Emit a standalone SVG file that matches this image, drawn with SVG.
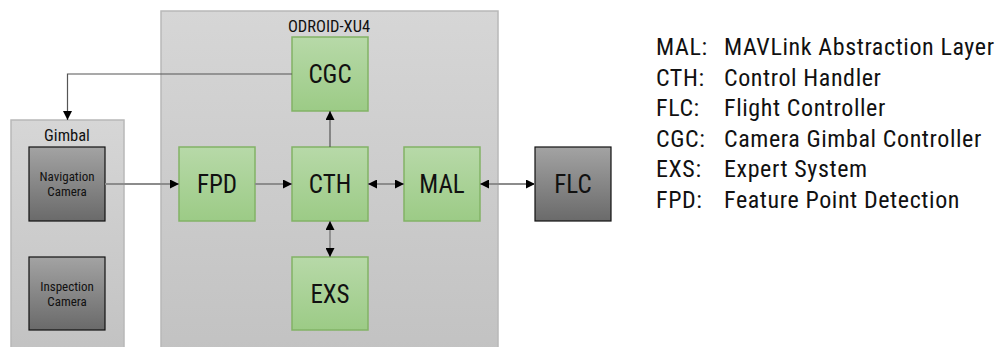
<svg xmlns="http://www.w3.org/2000/svg" width="1005" height="347" viewBox="0 0 1005 347">
  <defs>
    <linearGradient id="gGroup" x1="0" y1="0" x2="0" y2="1">
      <stop offset="0" stop-color="#d6d6d6"/>
      <stop offset="1" stop-color="#c2c2c2"/>
    </linearGradient>
    <linearGradient id="gGreen" x1="0" y1="0" x2="0" y2="1">
      <stop offset="0" stop-color="#b7d9a8"/>
      <stop offset="1" stop-color="#9ccb86"/>
    </linearGradient>
    <linearGradient id="gDark" x1="0" y1="0" x2="0" y2="1">
      <stop offset="0" stop-color="#a3a3a3"/>
      <stop offset="1" stop-color="#6a6a6a"/>
    </linearGradient>
    <marker id="arrow" viewBox="0 0 10 10" refX="10" refY="5" markerWidth="9" markerHeight="9" markerUnits="userSpaceOnUse" orient="auto-start-reverse">
      <path d="M0,0 L10,5 L0,10 Z" fill="#000"/>
    </marker>
  </defs>
  <style>
    text { font-family: Roboto, "Liberation Sans", sans-serif; font-stretch: condensed; fill: #111; }
    .group { fill: url(#gGroup); stroke: #b8b8b8; stroke-width: 1.5; }
    .green { fill: url(#gGreen); stroke: #82b366; stroke-width: 1.5; }
    .dark { fill: url(#gDark); stroke: #111; stroke-width: 1.2; }
    .big { font-size: 25px; text-anchor: middle; }
    .small { font-size: 13px; text-anchor: middle; }
    .glabel { font-size: 16.5px; text-anchor: middle; }
    .legend text { font-size: 24px; letter-spacing: 0.6px; }
    .conn path { fill: none; stroke: #8c8c8c; stroke-width: 1.8; }
    .conn path.thin { stroke: #555; stroke-width: 1.2; }
  </style>

  <!-- containers -->
  <g id="odroid">
    <rect class="group" x="161" y="11" width="337" height="345"/>
    <text class="glabel" x="329" y="31.5">ODROID-XU4</text>
  </g>
  <g id="gimbal">
    <rect class="group" x="11" y="120" width="113" height="236"/>
    <text class="glabel" x="67" y="140.5">Gimbal</text>
  </g>

  <!-- nodes -->
  <g id="nav-camera">
    <rect class="dark" x="29" y="147" width="76" height="74"/>
    <text class="small" x="67" y="181">Navigation</text>
    <text class="small" x="67" y="196">Camera</text>
  </g>
  <g id="insp-camera">
    <rect class="dark" x="29" y="257" width="76" height="73"/>
    <text class="small" x="67" y="291">Inspection</text>
    <text class="small" x="67" y="306">Camera</text>
  </g>
  <g id="fpd">
    <rect class="green" x="179" y="147" width="76" height="74"/>
    <text class="big" x="217" y="193">FPD</text>
  </g>
  <g id="cgc">
    <rect class="green" x="292" y="37" width="76" height="74"/>
    <text class="big" x="330" y="83">CGC</text>
  </g>
  <g id="cth">
    <rect class="green" x="292" y="147" width="76" height="74"/>
    <text class="big" x="330" y="193">CTH</text>
  </g>
  <g id="mal">
    <rect class="green" x="404" y="147" width="76" height="74"/>
    <text class="big" x="442" y="193">MAL</text>
  </g>
  <g id="exs">
    <rect class="green" x="292" y="257" width="76" height="73"/>
    <text class="big" x="330" y="302.5">EXS</text>
  </g>
  <g id="flc">
    <rect class="dark" x="535" y="147" width="76" height="74"/>
    <text class="big" x="573" y="193">FLC</text>
  </g>

  <!-- connectors -->
  <g id="connectors" class="conn">
    <path class="thin" d="M292,74 H67.5 V120" marker-end="url(#arrow)"/>
    <path class="thin" d="M330,147 V111" marker-end="url(#arrow)"/>
    <path d="M105,184 H179" marker-end="url(#arrow)"/>
    <path d="M255,184 H292" marker-end="url(#arrow)"/>
    <path d="M368,184 H404" marker-start="url(#arrow)" marker-end="url(#arrow)"/>
    <path d="M480,184 H535" marker-start="url(#arrow)" marker-end="url(#arrow)"/>
    <path d="M330,221 V257" marker-start="url(#arrow)" marker-end="url(#arrow)"/>
  </g>

  <!-- legend -->
  <g id="legend" class="legend">
    <text x="656" y="55">MAL:</text><text x="724" y="55">MAVLink Abstraction Layer</text>
    <text x="656" y="85.5">CTH:</text><text x="724" y="85.5">Control Handler</text>
    <text x="656" y="116">FLC:</text><text x="724" y="116">Flight Controller</text>
    <text x="656" y="146.5">CGC:</text><text x="724" y="146.5">Camera Gimbal Controller</text>
    <text x="656" y="177">EXS:</text><text x="724" y="177">Expert System</text>
    <text x="656" y="207.5">FPD:</text><text x="724" y="207.5">Feature Point Detection</text>
  </g>
</svg>
